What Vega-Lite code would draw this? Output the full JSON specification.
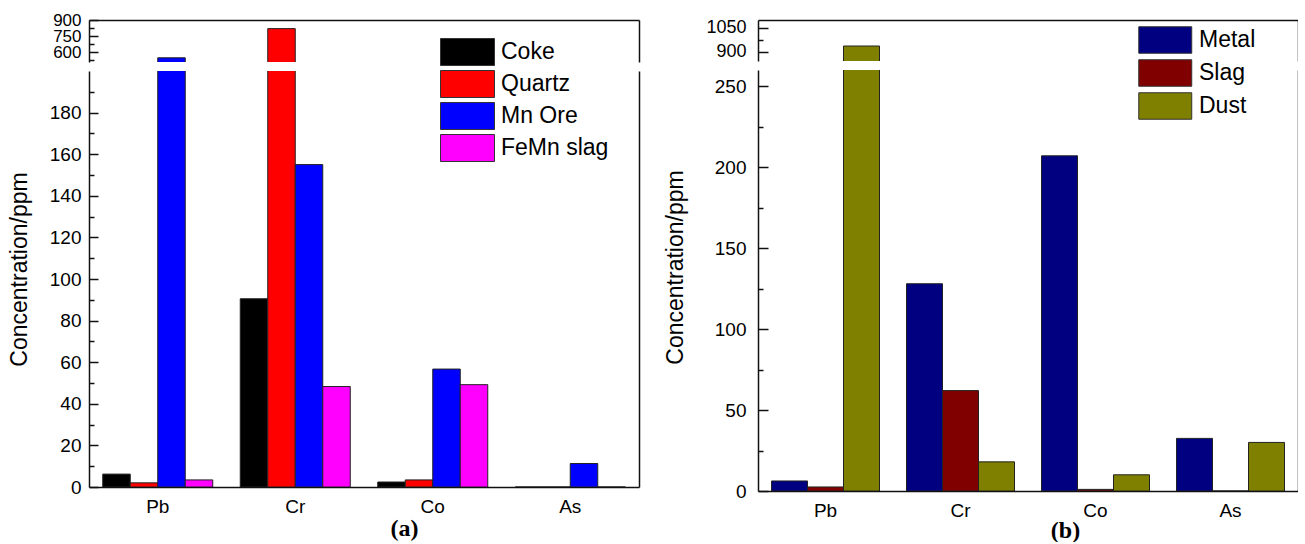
{
  "$schema": "https://vega.github.io/schema/vega-lite/v6.json",
  "padding": {"left": 8, "top": 4, "right": 0, "bottom": 0},
  "spacing": 25,
  "datasets": {
    "a": [
      {"element": "Pb", "material": "Coke", "value": 6.2},
      {"element": "Pb", "material": "Quartz", "value": 2.0},
      {"element": "Pb", "material": "Mn Ore", "value": 549},
      {"element": "Pb", "material": "FeMn slag", "value": 3.4},
      {"element": "Cr", "material": "Coke", "value": 90.5},
      {"element": "Cr", "material": "Quartz", "value": 820},
      {"element": "Cr", "material": "Mn Ore", "value": 155},
      {"element": "Cr", "material": "FeMn slag", "value": 48.3},
      {"element": "Co", "material": "Coke", "value": 2.4},
      {"element": "Co", "material": "Quartz", "value": 3.4},
      {"element": "Co", "material": "Mn Ore", "value": 56.7},
      {"element": "Co", "material": "FeMn slag", "value": 49.2},
      {"element": "As", "material": "Coke", "value": 0},
      {"element": "As", "material": "Quartz", "value": 0},
      {"element": "As", "material": "Mn Ore", "value": 11.3},
      {"element": "As", "material": "FeMn slag", "value": 0}
    ],
    "b": [
      {"element": "Pb", "material": "Metal", "value": 6.2},
      {"element": "Pb", "material": "Slag", "value": 2.5},
      {"element": "Pb", "material": "Dust", "value": 937},
      {"element": "Cr", "material": "Metal", "value": 128},
      {"element": "Cr", "material": "Slag", "value": 62},
      {"element": "Cr", "material": "Dust", "value": 18},
      {"element": "Co", "material": "Metal", "value": 207},
      {"element": "Co", "material": "Slag", "value": 1},
      {"element": "Co", "material": "Dust", "value": 10},
      {"element": "As", "material": "Metal", "value": 32.5},
      {"element": "As", "material": "Slag", "value": 0},
      {"element": "As", "material": "Dust", "value": 30}
    ]
  },
  "hconcat": [
    {
      "bounds": "flush",
      "spacing": 9,
      "resolve": {"scale": {"x": "independent", "xOffset": "independent", "y": "independent", "color": "independent"}},
      "vconcat": [
        {
          "width": 550,
          "height": 42,
          "data": {"name": "a"},
          "layer": [
            {
              "mark": {"type": "bar", "clip": true, "stroke": "#222", "strokeWidth": 1},
              "encoding": {
                "x": {"field": "element", "type": "nominal", "sort": ["Pb", "Cr", "Co", "As"],
                      "scale": {"paddingInner": 0.2, "paddingOuter": 0.1},
                      "axis": {"orient": "top", "labels": false, "ticks": false, "title": null, "domainWidth": 1.5, "minExtent": 16}},
                "xOffset": {"field": "material", "type": "nominal", "sort": ["Coke", "Quartz", "Mn Ore", "FeMn slag"], "scale": {"paddingInner": 0, "paddingOuter": 0}},
                "y": {"field": "value", "type": "quantitative", "scale": {"domain": [510, 900], "zero": false, "nice": false},
                      "axis": {"values": [525, 600, 675, 750, 825, 900], "format": "d",
                               "labelExpr": "(datum.value - 600) % 150 === 0 ? datum.label : ''",
                               "tickSize": {"condition": {"test": "(datum.value - 600) % 150 === 0", "value": -9}, "value": -5},
                               "labelPadding": 17, "labelFontSize": 17, "title": null, "labelOverlap": false, "labelFlush": false,
                               "domainWidth": 1.5, "tickWidth": 1.5}},
                "color": {"field": "material", "type": "nominal",
                          "scale": {"domain": ["Coke", "Quartz", "Mn Ore", "FeMn slag"], "range": ["#000000", "#FF0000", "#0000FF", "#FF00FF"]},
                          "legend": null}
              }
            },
            {
              "mark": {"type": "bar", "opacity": 0, "clip": true},
              "encoding": {
                "y": {"field": "value", "type": "quantitative",
                      "axis": {"orient": "right", "labels": false, "ticks": false, "title": null, "domainWidth": 1.5}}
              }
            }
          ],
          "resolve": {"axis": {"y": "independent"}}
        },
        {
          "width": 550,
          "height": 416,
          "data": {"name": "a"},
          "layer": [
            {
              "mark": {"type": "bar", "clip": true, "stroke": "#222", "strokeWidth": 1},
              "encoding": {
                "x": {"field": "element", "type": "nominal", "sort": ["Pb", "Cr", "Co", "As"],
                      "scale": {"paddingInner": 0.2, "paddingOuter": 0.1},
                      "axis": {"orient": "bottom", "ticks": false, "labelAngle": 0, "labelFontSize": 19, "labelPadding": 10,
                               "title": "(a)", "titleFont": "Liberation Serif", "titleFontWeight": "bold", "titleFontSize": 24,
                               "titleX": 315, "titleY": 29, "titleBaseline": "top", "domainWidth": 1.5}},
                "xOffset": {"field": "material", "type": "nominal", "sort": ["Coke", "Quartz", "Mn Ore", "FeMn slag"], "scale": {"paddingInner": 0, "paddingOuter": 0}},
                "y": {"field": "value", "type": "quantitative", "scale": {"domain": [0, 200], "nice": false},
                      "axis": {"values": [0, 10, 20, 30, 40, 50, 60, 70, 80, 90, 100, 110, 120, 130, 140, 150, 160, 170, 180, 190],
                               "labelExpr": "datum.value % 20 === 0 ? datum.label : ''",
                               "tickSize": {"condition": {"test": "datum.value % 20 === 0", "value": -9}, "value": -5},
                               "labelPadding": 17, "labelFontSize": 19, "labelOverlap": false, "labelFlush": false,
                               "title": "Concentration/ppm", "titleFontSize": 23, "titleFontWeight": "normal", "titlePadding": 18, "titleY": 198,
                               "domainWidth": 1.5, "tickWidth": 1.5}},
                "color": {"field": "material", "type": "nominal",
                          "scale": {"domain": ["Coke", "Quartz", "Mn Ore", "FeMn slag"], "range": ["#000000", "#FF0000", "#0000FF", "#FF00FF"]},
                          "legend": {"orient": "none", "legendX": 351, "legendY": -33, "title": null,
                                     "symbolType": "M-1,-1H3V1H-1Z", "symbolSize": 729, "symbolStrokeColor": "#333", "symbolStrokeWidth": 1, "symbolOpacity": 1,
                                     "labelFontSize": 23, "labelFont": "Liberation Sans", "labelColor": "#000", "labelOffset": 33, "rowPadding": 0, "padding": 0}}
              }
            },
            {
              "mark": {"type": "bar", "opacity": 0, "clip": true},
              "encoding": {
                "y": {"field": "value", "type": "quantitative",
                      "axis": {"orient": "right", "labels": false, "ticks": false, "title": null, "domainWidth": 1.5}}
              }
            }
          ],
          "resolve": {"axis": {"y": "independent"}}
        }
      ]
    },
    {
      "bounds": "flush",
      "spacing": 9,
      "resolve": {"scale": {"x": "independent", "xOffset": "independent", "y": "independent", "color": "independent"}},
      "vconcat": [
        {
          "width": 540,
          "height": 41,
          "data": {"name": "b"},
          "layer": [
            {
              "mark": {"type": "bar", "clip": true, "stroke": "#222", "strokeWidth": 1},
              "encoding": {
                "x": {"field": "element", "type": "nominal", "sort": ["Pb", "Cr", "Co", "As"],
                      "scale": {"paddingInner": 0.2, "paddingOuter": 0.1},
                      "axis": {"orient": "top", "labels": false, "ticks": false, "title": null, "domainWidth": 1.5}},
                "xOffset": {"field": "material", "type": "nominal", "sort": ["Metal", "Slag", "Dust"], "scale": {"paddingInner": 0, "paddingOuter": 0}},
                "y": {"field": "value", "type": "quantitative", "scale": {"domain": [843, 1100], "zero": false, "nice": false},
                      "axis": {"values": [900, 975, 1050], "format": "d",
                               "labelExpr": "(datum.value - 900) % 150 === 0 ? datum.label : ''",
                               "tickSize": {"condition": {"test": "(datum.value - 900) % 150 === 0", "value": -10}, "value": -5},
                               "labelPadding": 22, "labelFontSize": 18, "title": null, "labelOverlap": false, "labelFlush": false,
                               "domainWidth": 1.5, "tickWidth": 1.5}},
                "color": {"field": "material", "type": "nominal",
                          "scale": {"domain": ["Metal", "Slag", "Dust"], "range": ["#000080", "#800000", "#808000"]},
                          "legend": null}
              }
            },
            {
              "mark": {"type": "bar", "opacity": 0, "clip": true},
              "encoding": {
                "y": {"field": "value", "type": "quantitative",
                      "axis": {"orient": "right", "labels": false, "ticks": false, "title": null, "domainWidth": 1.5}}
              }
            }
          ],
          "resolve": {"axis": {"y": "independent"}}
        },
        {
          "width": 540,
          "height": 421,
          "data": {"name": "b"},
          "layer": [
            {
              "mark": {"type": "bar", "clip": true, "stroke": "#222", "strokeWidth": 1},
              "encoding": {
                "x": {"field": "element", "type": "nominal", "sort": ["Pb", "Cr", "Co", "As"],
                      "scale": {"paddingInner": 0.2, "paddingOuter": 0.1},
                      "axis": {"orient": "bottom", "ticks": false, "labelAngle": 0, "labelFontSize": 19, "labelPadding": 10,
                               "title": "(b)", "titleFont": "Liberation Serif", "titleFontWeight": "bold", "titleFontSize": 24,
                               "titleX": 307, "titleY": 27, "titleBaseline": "top", "domainWidth": 1.5}},
                "xOffset": {"field": "material", "type": "nominal", "sort": ["Metal", "Slag", "Dust"], "scale": {"paddingInner": 0, "paddingOuter": 0}},
                "y": {"field": "value", "type": "quantitative", "scale": {"domain": [0, 260], "nice": false},
                      "axis": {"values": [0, 25, 50, 75, 100, 125, 150, 175, 200, 225, 250],
                               "labelExpr": "datum.value % 50 === 0 ? datum.label : ''",
                               "tickSize": {"condition": {"test": "datum.value % 50 === 0", "value": -10}, "value": -5},
                               "labelPadding": 22, "labelFontSize": 19, "labelOverlap": false, "labelFlush": false,
                               "title": "Concentration/ppm", "titleFontSize": 23, "titleFontWeight": "normal", "titlePadding": 27, "titleY": 197,
                               "domainWidth": 1.5, "tickWidth": 1.5}},
                "color": {"field": "material", "type": "nominal",
                          "scale": {"domain": ["Metal", "Slag", "Dust"], "range": ["#000080", "#800000", "#808000"]},
                          "legend": {"orient": "none", "legendX": 380, "legendY": -44, "title": null,
                                     "symbolType": "M-1,-1H3V1H-1Z", "symbolSize": 702, "symbolStrokeColor": "#333", "symbolStrokeWidth": 1, "symbolOpacity": 1,
                                     "labelFontSize": 23, "labelFont": "Liberation Sans", "labelColor": "#000", "labelOffset": 33, "rowPadding": 1, "padding": 0}}
              }
            },
            {
              "mark": {"type": "bar", "opacity": 0, "clip": true},
              "encoding": {
                "y": {"field": "value", "type": "quantitative",
                      "axis": {"orient": "right", "labels": false, "ticks": false, "title": null, "domainWidth": 1.5}}
              }
            }
          ],
          "resolve": {"axis": {"y": "independent"}}
        }
      ]
    }
  ],
  "resolve": {"scale": {"color": "independent", "x": "independent", "xOffset": "independent", "y": "independent"}},
  "config": {
    "view": {"stroke": null},
    "font": "Liberation Sans",
    "axis": {"labelFont": "Liberation Sans", "titleFont": "Liberation Sans", "labelColor": "#000", "titleColor": "#000",
             "domainColor": "#111", "tickColor": "#111", "grid": false},
    "legend": {"labelFont": "Liberation Sans"}
  }
}
